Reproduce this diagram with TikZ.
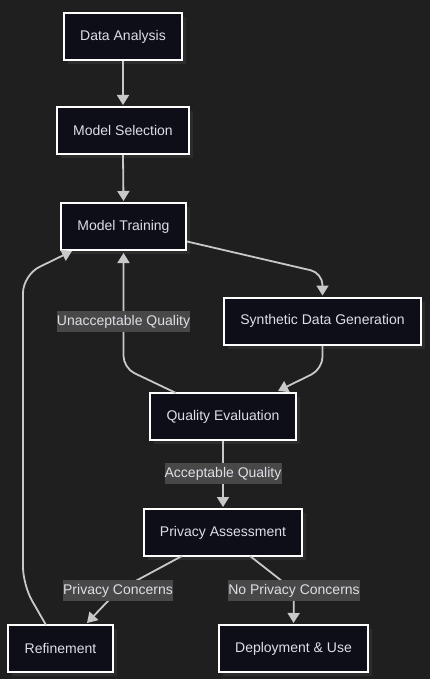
\documentclass[tikz,border=0pt]{standalone}
\usepackage{fontspec}
\setmainfont{Liberation Sans}
\usetikzlibrary{arrows.meta}
\definecolor{bgc}{RGB}{31,31,31}
\definecolor{nodefill}{RGB}{13,14,23}
\definecolor{shadowc}{RGB}{44,44,44}
\definecolor{edgec}{RGB}{200,200,200}
\definecolor{txtc}{RGB}{222,222,230}
\definecolor{lblfill}{RGB}{72,72,72}
\tikzset{
  box/.style={draw=white, line width=2pt, fill=nodefill, text=txtc, font=\fontsize{14}{16}\selectfont,
    inner sep=0pt, minimum height=47pt,
    preaction={draw=none, fill=shadowc, transform canvas={shift={(4pt,-4pt)}}}},
  lbl/.style={fill=lblfill, text=txtc, font=\fontsize{14}{16}\selectfont, inner sep=0pt, minimum height=21pt},
  edge/.style={draw=edgec, line width=1.8pt, -{Triangle[length=10pt,width=12pt]}},
  edgen/.style={draw=edgec, line width=1.8pt},
}
\begin{document}
\begin{tikzpicture}[x=1pt,y=-1pt]
\path[fill=bgc] (0,0) rectangle (430,679);
\useasboundingbox (0,0) rectangle (430,679);

\node[box, minimum width=118pt] (da) at (123,36.5) {Data Analysis};
\node[box, minimum width=132pt] (ms) at (123,130.5) {Model Selection};
\node[box, minimum width=125pt] (mt) at (123.5,226.5) {Model Training};
\node[box, minimum width=197pt] (sdg) at (322.5,321) {Synthetic Data Generation};
\node[box, minimum width=146pt] (qe) at (223,416.5) {Quality Evaluation};
\node[box, minimum width=158pt] (pa) at (223,532.5) {Privacy Assessment};
\node[box, minimum width=105pt] (rf) at (60.5,648.5) {Refinement};
\node[box, minimum width=149pt] (du) at (293.5,648.5) {Deployment \& Use};

% straight edges
\draw[edge] (da.south) -- ([yshift=1pt]ms.north);
\draw[edge] (ms.south) -- ([yshift=1pt]mt.north);

% Model Training -> Synthetic Data Generation
\coordinate (c1) at (322.5,273);
\draw[edge, rounded corners=12pt] ([yshift=-15pt]mt.east) -- (c1) -- ([yshift=1pt]sdg.north);

% Synthetic Data Generation -> Quality Evaluation
\coordinate (c2) at (322.5,369);
\coordinate (qe1) at (278,391);
\draw[edge, rounded corners=12pt] (sdg.south) -- (c2) -- (qe1);

% Quality Evaluation -> Model Training (Unacceptable Quality)
\coordinate (qe2) at (176,393);
\coordinate (c3) at (123.5,368);
\draw[edge, rounded corners=12pt] (qe2) -- (c3) -- ([yshift=-2pt]mt.south);
\node[lbl, minimum width=133pt] (l1) at (123.5,321.5) {Unacceptable Quality};

% Quality Evaluation -> Privacy Assessment
\draw[edge] (qe.south) -- ([yshift=1pt]pa.north);
\node[lbl, minimum width=117pt] (l2) at (223,473.5) {Acceptable Quality};

% Privacy Assessment -> Refinement
\coordinate (pa1) at (182,556);
\coordinate (rf1) at (87,623);
\draw[edge, rounded corners=8pt] (pa1) -- (118,590.5) -- (rf1);
\node[lbl, minimum width=110pt] (l3) at (118,590.5) {Privacy Concerns};

% Privacy Assessment -> Deployment & Use
\coordinate (pa2) at (250,556);
\coordinate (c4) at (294,590.5);
\draw[edge, rounded corners=6pt] (pa2) -- (c4) -- ([yshift=1pt]du.north);
\node[lbl, minimum width=132pt] (l4) at (294,590.5) {No Privacy Concerns};

% Refinement -> Model Training
\coordinate (rf2) at (46,625);
\coordinate (c5) at (23,585);
\coordinate (c6) at (23,275);
\coordinate (mt1) at (72,251);
\draw[edge, rounded corners=18pt] (rf2) -- (c5) -- (c6) -- (mt1);
\end{tikzpicture}
\end{document}
